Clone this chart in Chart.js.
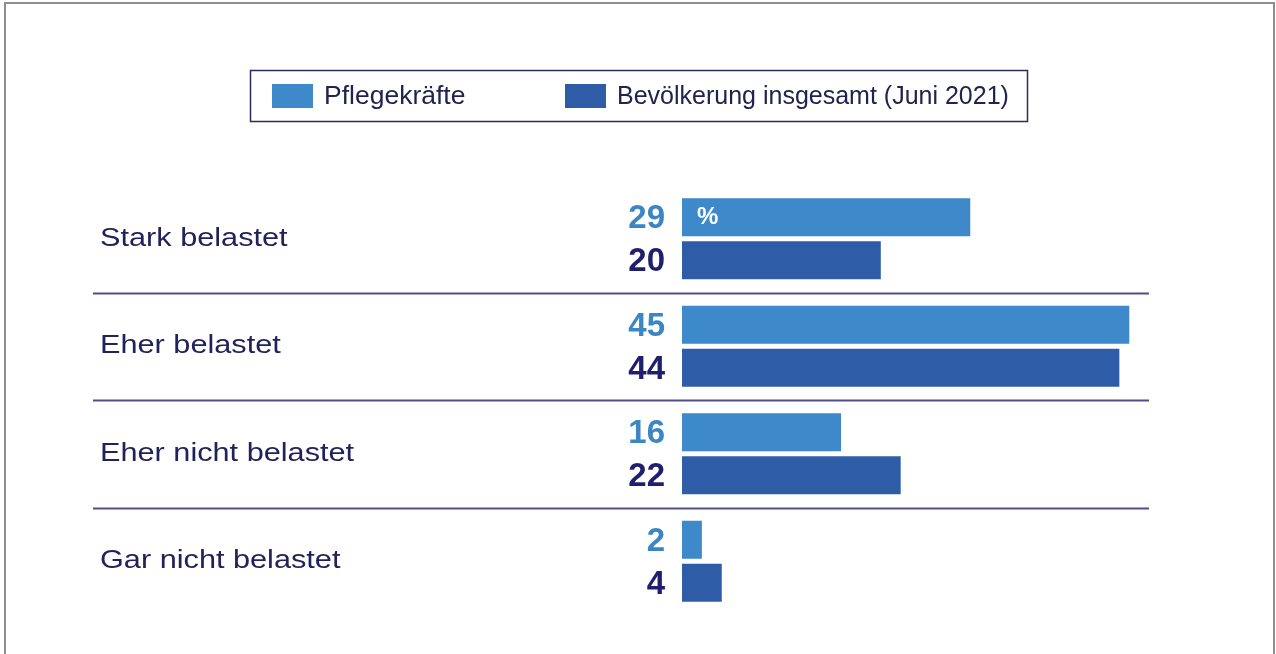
<!DOCTYPE html>
<html>
<head>
<meta charset="utf-8">
<script src="https://cdn.jsdelivr.net/npm/chart.js@4"></script>
<style>
  html, body { margin: 0; padding: 0; background: #fff; }
  #wrap { width: 1276px; height: 654px; position: relative; }
</style>
</head>
<body>
<div id="wrap"><canvas id="chart" width="1276" height="654"></canvas></div>
<script>
// Daten
var categories = ['Stark belastet', 'Eher belastet', 'Eher nicht belastet', 'Gar nicht belastet'];
var seriesNames = ['Pflegekräfte', 'Bevölkerung insgesamt (Juni 2021)'];
var pflegekraefte = [29, 45, 16, 2];
var bevoelkerung = [20, 44, 22, 4];

var barColors = ['#3d89c9', '#2f5ca6'];
var valueColors = ['#3d86c4', '#1f1f6e'];
var fontFam = '"Liberation Sans", Arial, sans-serif';

// texte élargi horizontalement (police large comme dans l'original)
function wideText(ctx, txt, x, y, sx) {
    ctx.save();
    ctx.translate(x, y);
    ctx.scale(sx, 1);
    ctx.fillText(txt, 0, 0);
    ctx.restore();
}

// dessine légende, libellés, valeurs, séparateurs et cadre
var decorPlugin = {
    id: 'decor',
    afterDatasetsDraw: function(chart) {
        var ctx = chart.ctx;
        var area = chart.chartArea;
        var yScale = chart.scales.y;
        ctx.save();

        // cadre extérieur
        ctx.strokeStyle = '#8f8f8f';
        ctx.lineWidth = 2;
        ctx.beginPath();
        ctx.moveTo(5, 700); ctx.lineTo(5, 3); ctx.lineTo(1274, 3); ctx.lineTo(1274, 700);
        ctx.stroke();

        // légende encadrée
        ctx.strokeStyle = '#2b2b5e';
        ctx.lineWidth = 1.5;
        ctx.strokeRect(250.5, 70.5, 777, 51);
        var legendX = [272, 565];
        ctx.font = '25px ' + fontFam;
        ctx.textBaseline = 'middle';
        ctx.textAlign = 'left';
        chart.data.datasets.forEach(function(ds, i) {
            ctx.fillStyle = ds.backgroundColor;
            ctx.fillRect(legendX[i], 84, 41, 24);
            ctx.fillStyle = '#22224e';
            wideText(ctx, ds.label, legendX[i] + 52, 97, i === 0 ? 1.06 : 1.0);
        });

        // séparateurs
        ctx.strokeStyle = '#4f4f86';
        ctx.lineWidth = 2;
        for (var i = 0; i < categories.length - 1; i++) {
            var ySep = Math.round((yScale.getPixelForValue(i) + yScale.getPixelForValue(i + 1)) / 2) + 0.5;
            ctx.beginPath();
            ctx.moveTo(93, ySep);
            ctx.lineTo(1149, ySep);
            ctx.stroke();
        }

        // libellés des catégories
        ctx.font = '26px ' + fontFam;
        ctx.fillStyle = '#22225a';
        ctx.textAlign = 'left';
        categories.forEach(function(c, i) {
            wideText(ctx, c, 100, yScale.getPixelForValue(i), 1.18);
        });

        // valeurs à gauche des barres
        ctx.font = 'bold 33px ' + fontFam;
        ctx.textAlign = 'right';
        chart.data.datasets.forEach(function(ds, d) {
            var meta = chart.getDatasetMeta(d);
            meta.data.forEach(function(el, k) {
                ctx.fillStyle = valueColors[d];
                ctx.fillText(String(ds.data[k]), area.left - 17, el.y + 2);
            });
        });

        // "%" dans la première barre
        var first = chart.getDatasetMeta(0).data[0];
        ctx.font = 'bold 24px ' + fontFam;
        ctx.fillStyle = '#ffffff';
        ctx.textAlign = 'left';
        ctx.fillText('%', first.base + 15, first.y);

        ctx.restore();
    }
};

var ctx = document.getElementById('chart').getContext('2d');
var chart = new Chart(ctx, {
    type: 'bar',
    data: {
        labels: categories,
        datasets: [{
            label: seriesNames[0],
            data: pflegekraefte,
            backgroundColor: barColors[0]
        }, {
            label: seriesNames[1],
            data: bevoelkerung,
            backgroundColor: barColors[1]
        }]
    },
    options: {
        indexAxis: 'y',
        responsive: false,
        animation: false,
        categoryPercentage: 0.8,
        barPercentage: 0.884,
        layout: {
            padding: { left: 682, right: 97, top: 185, bottom: 39 }
        },
        scales: {
            x: { display: false, min: 0, max: 50 },
            y: { display: false }
        },
        plugins: {
            legend: { display: false },
            tooltip: { enabled: false }
        }
    },
    plugins: [decorPlugin]
});
</script>
</body>
</html>
